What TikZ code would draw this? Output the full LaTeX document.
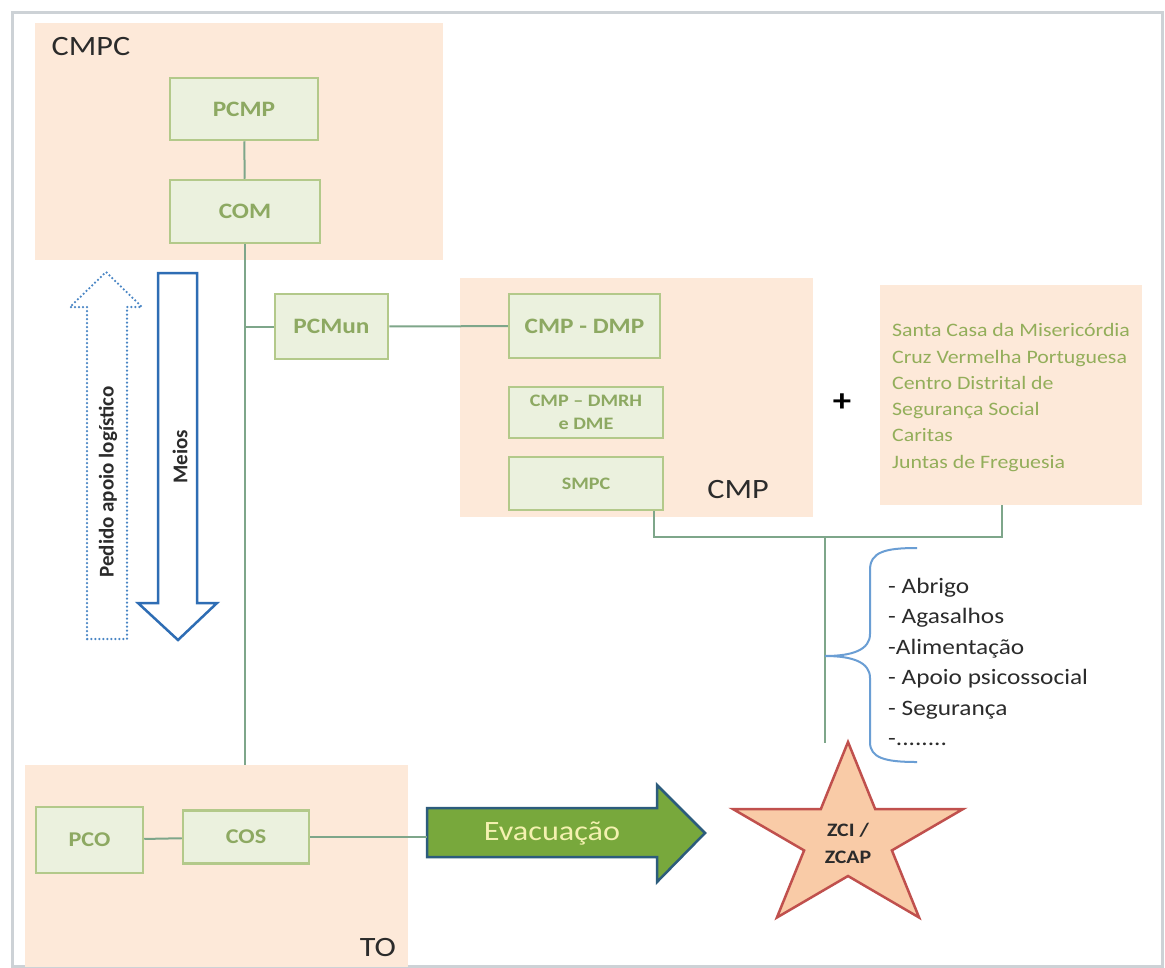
\documentclass[tikz,border=0pt]{standalone}
\usepackage{fontspec}
\setmainfont{Carlito}[FakeStretch=1.15]
\newfontfamily\plainfont{Carlito}
\definecolor{peach}{HTML}{FDE9D9}
\definecolor{boxfill}{HTML}{EBF1DE}
\definecolor{boxdraw}{HTML}{B3C98A}
\definecolor{boxtext}{HTML}{8DA962}
\definecolor{orgtext}{HTML}{93AE5A}
\definecolor{connc}{HTML}{7EA68A}
\definecolor{labelc}{HTML}{2B2B2B}
\definecolor{framec}{HTML}{CDD2D6}
\definecolor{evacfill}{HTML}{78A83C}
\definecolor{evacdraw}{HTML}{2C5C7C}
\definecolor{evactext}{HTML}{F4F1B0}
\definecolor{meiosc}{HTML}{2E6DB4}
\definecolor{pedidoc}{HTML}{4A86C5}
\definecolor{bracec}{HTML}{6A9ED4}
\definecolor{starfill}{HTML}{F9CBA7}
\definecolor{stardraw}{HTML}{C0504D}
\begin{document}
\begin{tikzpicture}[x=1pt,y=-1pt,
  region/.style={fill=peach,draw=none,inner sep=0pt},
  unit/.style={draw=boxdraw,line width=2.5pt,fill=boxfill,text=boxtext,
    font=\bfseries\fontsize{22}{26}\selectfont,inner sep=0pt,align=center},
  smallunit/.style={unit,font=\bfseries\fontsize{17.5}{23}\selectfont},
  conn/.style={draw=connc,line width=2pt},
  biglabel/.style={text=labelc,font=\fontsize{28}{32}\selectfont,inner sep=0pt},
  sidetext/.style={text=labelc,font=\plainfont\bfseries\fontsize{21}{24}\selectfont,
    rotate=90,inner sep=0pt}]
\useasboundingbox (0,0) rectangle (1165,967);
\fill[white] (0,0) rectangle (1165,967);
\draw[framec,line width=3pt] (12,12) rectangle (1162,966);

% shaded groups
\node[region,minimum width=408pt,minimum height=237pt] (cmpcreg) at (239,141.5) {};
\node[region,minimum width=353pt,minimum height=239pt] (cmpreg) at (636.5,397.5) {};
\node[region,minimum width=383pt,minimum height=202pt] (toreg) at (216.5,866) {};
\node[region,minimum width=262pt,minimum height=220pt] (orgs) at (1011,395) {};

\node[biglabel] (cmpclbl) at (91,47) {CMPC};
\node[biglabel] (cmplbl) at (738,490) {CMP};
\node[biglabel] (tolbl) at (378,947) {TO};

% units
\node[unit,minimum width=148pt,minimum height=62pt] (pcmp) at (244,109) {PCMP};
\node[unit,minimum width=150pt,minimum height=63pt] (com) at (245,211.5) {COM};
\node[unit,minimum width=113pt,minimum height=65pt] (pcmun) at (331.5,326.5) {PCMun};
\node[unit,minimum width=151pt,minimum height=64pt] (cmpdmp) at (584.5,326) {CMP - DMP};
\node[smallunit,minimum width=154pt,minimum height=51pt] (cmpdmrh) at (586,412.5) {CMP -- DMRH\\e DME};
\node[smallunit,minimum width=154pt,minimum height=53pt] (smpc) at (586,483.5) {SMPC};
\node[unit,font=\bfseries\fontsize{21}{24}\selectfont,minimum width=107pt,minimum height=66pt] (pco) at (89.5,840) {PCO};
\node[unit,font=\bfseries\fontsize{21}{24}\selectfont,minimum width=126pt,minimum height=53pt] (cos) at (246,837) {COS};

% partner organisations
\node[anchor=west,align=left,inner sep=0pt,text=orgtext,
  font=\fontsize{19}{26.3}\selectfont] (orglist) at (892,397.5)
  {Santa Casa da Misericórdia\\Cruz Vermelha Portuguesa\\Centro Distrital de\\Segurança Social\\Caritas\\Juntas de Freguesia};
\node[text=black,font=\bfseries\fontsize{32}{34}\selectfont,inner sep=0pt] (plus) at (842,403) {+};

% connectors
\draw[conn] (pcmp) -- (com);
\draw[conn] (com) -- (com.south |- toreg.north);
\draw[conn] (com.south |- pcmun.west) -- (pcmun.west);
\draw[conn] (pcmun) -- (cmpdmp);
\draw[conn] (pco) -- (cos);
\coordinate (smpcdrop) at (654,0);
\coordinate (orgdrop) at (1002,0);
\coordinate (bus) at (0,537);
\draw[conn] (smpc.south -| smpcdrop) -- (smpcdrop |- bus) -- (orgdrop |- bus) -- (orgs.south -| orgdrop);
\coordinate (trunktop) at (825,537);
\coordinate (trunkbot) at (825,743);
\draw[conn] (trunktop) -- (trunkbot);

% request / means arrows
\draw[pedidoc,line width=2.5pt,dash pattern=on 0pt off 4pt,line cap=round]
  (87,639) -- (87,307) -- (70,307) -- (106,272) -- (142,307) -- (127,307) -- (127,639) -- cycle;
\draw[meiosc,line width=2.5pt,fill=white,line join=miter]
  (158,273) -- (197,273) -- (197,603) -- (217,603) -- (178,640) -- (138,603) -- (158,603) -- cycle;
\node[sidetext] (pedido) at (108,482) {Pedido apoio logístico};
\node[sidetext] (meios) at (180,457) {Meios};

% evacuation arrow
\draw[evacdraw,line width=2.5pt,fill=evacfill,line join=miter]
  (427,808) -- (657,808) -- (657,785) -- (705,833) -- (657,882) -- (657,857) -- (427,857) -- cycle;
\node[minimum width=230pt,minimum height=49pt,inner sep=0pt] (evac) at (542,832.5) {};
\node[text=evactext,font=\fontsize{28}{30}\selectfont,inner sep=0pt] (evaclbl) at (552,833) {Evacuação};
\draw[conn] (cos.east) -- (cos.east -| evac.west);

% support brace and list
\draw[bracec,line width=2pt]
  (917,548) .. controls (885,548) and (870,552) .. (870,570) -- (870,634)
  .. controls (870,650) and (852,656) .. (825,656)
  .. controls (852,656) and (870,662) .. (870,678) -- (870,742)
  .. controls (870,758) and (885,762) .. (917,762);
\node[anchor=west,align=left,inner sep=0pt,text=labelc,
  font=\fontsize{22}{30.5}\selectfont] (needs) at (888,662)
  {- Abrigo\\- Agasalhos\\-Alimentação\\- Apoio psicossocial\\- Segurança\\-........};

% shelter zone star
\draw[stardraw,line width=2.5pt,fill=starfill,line join=miter]
  (848,742) -- (820.8,809.1) -- (732.9,809) -- (804.1,850.4) -- (776.9,917.5)
  -- (848,876) -- (919.1,917.5) -- (891.9,850.4) -- (963.1,809) -- (875.2,809.1) -- cycle;
\node[align=center,inner sep=0pt,text=labelc,
  font=\bfseries\fontsize{19}{27}\selectfont] (zci) at (848,843) {ZCI /\\ZCAP};
\end{tikzpicture}
\end{document}
